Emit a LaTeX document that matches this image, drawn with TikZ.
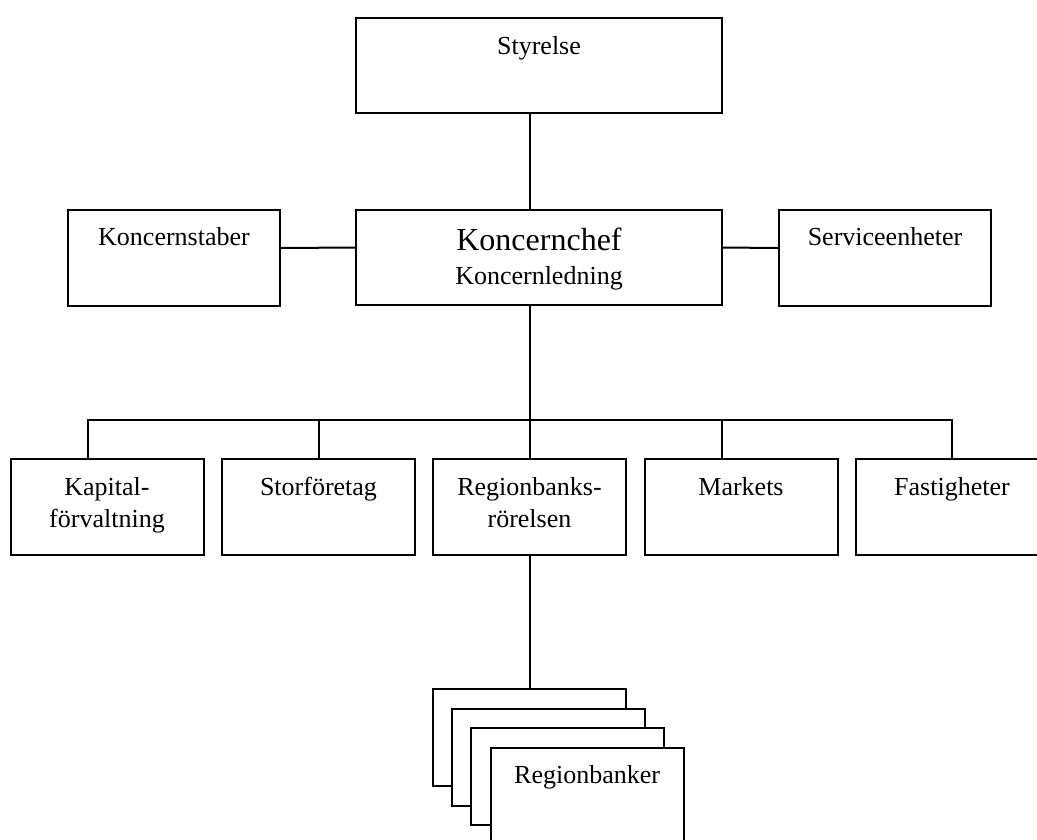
\documentclass[tikz,border=0pt]{standalone}
\usepackage{fontspec}
\setmainfont{Liberation Serif}
\usetikzlibrary{positioning}
\begin{document}
\begin{tikzpicture}[x=1pt,y=1pt,line width=2pt,node distance=18pt,
		unit/.style={rectangle,draw,fill=white,inner sep=0pt,minimum width=193pt,minimum height=96pt},
		wide/.style={unit,minimum width=366pt,minimum height=95pt},
		side/.style={unit,minimum width=212pt},
		lbl/.style={inner sep=0pt,align=center,font=\fontsize{26}{32}\selectfont}]
		\useasboundingbox (0,0) rectangle (1037,-839);
		\clip (0,0) rectangle (1037,-839);
		\node[wide](sty) at (539,-65.5){};
		\node[wide](kc) at (539,-257.5){};
		\node[side](ks) at (174,-258){};
		\node[side](se) at (885,-258){};
		\node[unit](kap) at (107,-507){};
		\node[unit](stf) at (318.5,-507){};
		\node[unit](reg) at (529.5,-507){};
		\node[unit](mkt) at (741,-507){};
		\node[unit](fas) at (952,-507){};
		\foreach \i in {0,...,3}
			\node[unit,minimum height=97pt](rb\i) at (529.5+19.2*\i,-737.5-19.5*\i){};
		\node[lbl,below=of sty.north](styl){Styrelse};
		\node[lbl,below=of kc.north,font=\fontsize{32}{38}\selectfont](kcl){Koncernchef};
		\node[lbl,below=14pt of kcl](kll){Koncernledning};
		\node[lbl,below=17pt of ks.north](ksl){Koncernstaber};
		\node[lbl,below=17pt of se.north](sel){Serviceenheter};
		\node[lbl,below=of kap.north](kapl){Kapital-\\förvaltning};
		\node[lbl,below=of stf.north](stfl){Storföretag};
		\node[lbl,below=of reg.north](regl){Regionbanks-\\rörelsen};
		\node[lbl,below=of mkt.north](mktl){Markets};
		\node[lbl,below=of fas.north](fasl){Fastigheter};
		\node[lbl,below=of rb3.north](rbl){Regionbanker};
		\draw (sty.south-|reg.north) -- (kc.north-|reg.north);
		\draw ([yshift=10pt]ks.east) -- ([yshift=10pt]kc.west);
		\draw ([yshift=10pt]kc.east) -- ([yshift=10pt]se.west);
		\draw (kc.south-|reg.north) -- (reg.north);
		\draw ([xshift=-19pt]kap.north) -- ++(0,38) -| (fas.north);
		\draw (stf.north) -- ++(0,38);
		\draw ([xshift=-19pt]mkt.north) -- ++(0,38);
		\draw (reg.south) -- (rb0.north);
	\end{tikzpicture}
\end{document}
